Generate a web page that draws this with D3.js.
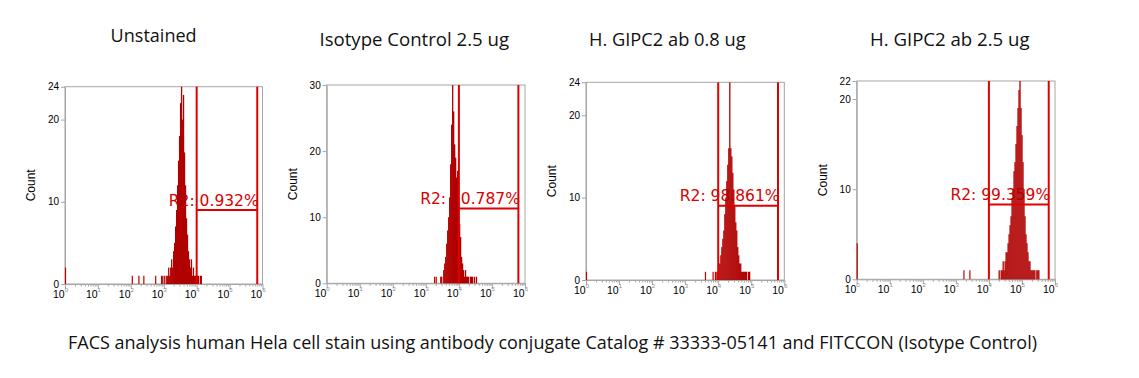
<!DOCTYPE html>
<html><head><meta charset="utf-8">
<script src="https://cdn.jsdelivr.net/npm/d3@7"></script>
<style>html,body{margin:0;padding:0;background:#fff;}svg{display:block;}</style>
</head><body><svg id="c" width="1139" height="378"></svg>
<script>
// ---- data ----
const categories = ["Unstained", "Isotype Control 2.5 ug", "H. GIPC2 ab 0.8 ug", "H. GIPC2 ab 2.5 ug"];
const gateLabels = ["R2: 0.932%", "R2: 10.787%", "R2: 98.861%", "R2: 99.359%"];
const yMax = [24, 30, 24, 22];
const yTickValues = [[0, 10, 20, 24], [0, 10, 20, 30], [0, 10, 20, 24], [0, 10, 20, 22]];
const xTickExponents = [0, 1, 2, 3, 4, 5, 6];
const gateLeft = [4.0, 4.0, 4.0, 4.0];
const gateRight = [5.84, 5.8, 5.81, 5.81];
const gateLevel = [9.0, 11.3, 9.0, 8.3];
const binStep = 0.03; // decades per channel
const peakStart = [2.97, 3.45, 3.96, 4.31];
const counts1 = [1,0,1,0,1,1,2,1,2,3,2,4,5,7,9,12,15,18,22,24,20,23,16,12,8,6,4,3,2,3,1,2,1,1,0,1,1,0,1,1];
const counts2 = [1,1,0,2,3,4,6,8,10,13,18,24,30,26,21,19,16,17,12,9,7,4,3,2,1,2,1,1,1,0,1,1,1,0,1,0,1];
const counts3 = [1,1,2,2,3,4,5,6,8,10,12,14,16,24,16,15,13,11,9,7,6,4,3,2,2,1,1,1,1,1,1,0,1,1];
const counts4 = [1,0,1,1,2,1,2,3,3,4,5,6,7,9,10,12,13,15,17,19,21,22,19,16,13,10,7,5,4,3,2,2,1,1,1,1,1,0,1,1,1];
const sparse1 = [[0, 2], [2.03, 1], [2.23, 1], [2.38, 1], [2.74, 1], [2.92, 1]];
const sparse2 = [[3.25, 1], [3.30, 1]];
const sparse3 = [[0, 1], [3.6, 1], [3.83, 1], [3.9, 1]];
const sparse4 = [[0, 4], [3.23, 1], [3.41, 1]];
const allCounts = [counts1, counts2, counts3, counts4];
const allSparse = [sparse1, sparse2, sparse3, sparse4];
const caption = "FACS analysis human Hela cell stain using antibody conjugate Catalog # 33333-05141 and FITCCON (Isotype Control)";

// ---- layout ----
const boxes = [
  {l: 65, r: 262.5, t: 86.7, b: 284},
  {l: 326.7, r: 525, t: 85, b: 283.3},
  {l: 586, r: 784.3, t: 82.3, b: 280},
  {l: 856.7, r: 1055, t: 81, b: 279.3}
];
const titlePos = [{x: 110.6, y: 41.6, w: 86}, {x: 319.5, y: 45.9, w: 189.5}, {x: 589, y: 46, w: 156.6}, {x: 870, y: 46, w: 159.6}];

const svg = d3.select("#c");
const GRAY = "#a6a6a6";
const HIST = "#b00000";
const GATE = "#e00000";

categories.forEach((cat, i) => {
  const bx = boxes[i];
  const g = svg.append("g");
  const x = d3.scaleLinear().domain([0, 6]).range([bx.l, bx.r]);
  const y = d3.scaleLinear().domain([0, yMax[i]]).range([bx.b, bx.t]);

  svg.append("text").attr("x", titlePos[i].x).attr("y", titlePos[i].y)
    .attr("textLength", titlePos[i].w).attr("lengthAdjust", "spacingAndGlyphs")
    .style("font-family", "'Open Sans', sans-serif").style("font-size", "17.5px").style("fill", "#111")
    .text(cat);

  g.append("rect").attr("x", bx.l).attr("y", bx.t).attr("width", bx.r - bx.l).attr("height", bx.b - bx.t)
    .attr("fill", "none").attr("stroke", GRAY).attr("stroke-width", 1);

  const ya = g.append("g").attr("transform", `translate(${bx.l},0)`)
    .call(d3.axisLeft(y).tickValues(yTickValues[i]).tickSize(4).tickSizeOuter(0).tickFormat(d3.format("d")));
  ya.select(".domain").attr("stroke", GRAY);
  ya.selectAll(".tick line").attr("stroke", GRAY);
  ya.selectAll(".tick text").style("font-family", "'Liberation Sans', Arial, sans-serif").style("font-size", "10px").attr("fill", "#000").attr("x", -6);

  g.append("text").attr("transform", `translate(${bx.l - 30},${(bx.t + bx.b) / 2}) rotate(-90)`)
    .attr("text-anchor", "middle")
    .style("font-family", "'Liberation Sans', Arial, sans-serif").style("font-size", "12px").attr("fill", "#000")
    .text("Count");

  const xa = g.append("g").attr("transform", `translate(0,${bx.b})`)
    .call(d3.axisBottom(x).tickValues(xTickExponents).tickSize(5).tickSizeOuter(0).tickFormat(""));
  xa.select(".domain").attr("stroke", GRAY);
  xa.selectAll(".tick line").attr("stroke", GRAY);
  const minor = [];
  for (let d = 0; d < 6; d++) for (let k = 2; k <= 9; k++) minor.push(d + Math.log10(k));
  const xm = g.append("g").attr("transform", `translate(0,${bx.b})`)
    .call(d3.axisBottom(x).tickValues(minor).tickSize(2.5).tickFormat(""));
  xm.select(".domain").remove();
  xm.selectAll(".tick line").attr("stroke", GRAY);
  xTickExponents.forEach(e => {
    const t = g.append("text").attr("x", x(e) + 3).attr("y", bx.b + 14).attr("text-anchor", "end")
      .style("font-family", "'Liberation Sans', Arial, sans-serif").style("font-size", "10.5px").attr("fill", "#000");
    t.append("tspan").text("10");
    t.append("tspan").attr("dy", -6).style("font-size", "6px").attr("fill", "#888").text(e);
  });

  g.append("text").attr("x", x(gateRight[i]) + 1.5).attr("y", y(gateLevel[i]) - 4.5).attr("text-anchor", "end")
    .style("font-family", "'DejaVu Sans', sans-serif").style("font-size", "15.5px").attr("fill", "#d80000")
    .text(gateLabels[i]);

  const bins = allCounts[i].map((c, j) => ({pos: peakStart[i] + j * binStep, c}));
  g.append("g").selectAll("rect").data(bins.filter(d => d.c > 0)).join("rect")
    .attr("x", d => x(d.pos) - 0.6).attr("width", d => Math.max(1.3, x(d.pos + binStep) - x(d.pos)))
    .attr("y", d => y(d.c)).attr("height", d => y(0) - y(d.c)).attr("fill", HIST);
  g.append("g").selectAll("line").data(allSparse[i]).join("line")
    .attr("x1", d => x(d[0]) + 0.5).attr("x2", d => x(d[0]) + 0.5)
    .attr("y1", d => y(d[1])).attr("y2", y(0)).attr("stroke", "#c00000").attr("stroke-width", 1.2);

  [gateLeft[i], gateRight[i]].forEach(v => {
    g.append("line").attr("x1", x(v)).attr("x2", x(v)).attr("y1", bx.t).attr("y2", bx.b)
      .attr("stroke", GATE).attr("stroke-width", 2);
  });
  g.append("line").attr("x1", x(gateLeft[i])).attr("x2", x(gateRight[i]))
    .attr("y1", y(gateLevel[i])).attr("y2", y(gateLevel[i])).attr("stroke", GATE).attr("stroke-width", 2);
});

svg.append("text").attr("x", 68).attr("y", 349).attr("textLength", 969).attr("lengthAdjust", "spacingAndGlyphs")
  .style("font-family", "'Open Sans', sans-serif").style("font-size", "17.5px").style("fill", "#111")
  .text(caption);
</script>
</body></html>
